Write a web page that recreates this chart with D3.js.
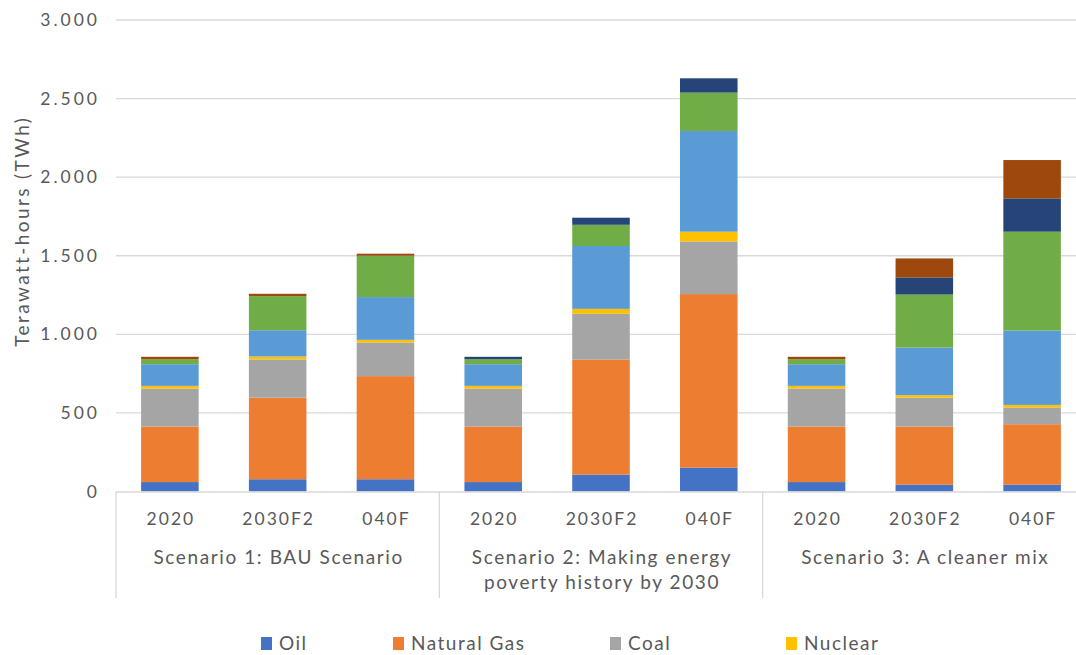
<!DOCTYPE html>
<html><head><meta charset="utf-8">
<script src="https://cdn.jsdelivr.net/npm/d3@7"></script>
<style>
html,body{margin:0;padding:0;background:#fff;}
svg{display:block;font-family:Lato, "Open Sans", sans-serif;}
</style></head>
<body><svg id="c" width="1076" height="655"></svg>
<script>
const scenarios = [["Scenario 1: BAU Scenario"], ["Scenario 2: Making energy", "poverty history by 2030"], ["Scenario 3: A cleaner mix"]];
const years = ["2020", "2030F2", "040F"];
const seriesNames = ["Oil", "Natural Gas", "Coal", "Nuclear", "Hydro", "Wind", "Solar", "Other"];
const seriesColors = ["#4472C4", "#ED7D31", "#A5A5A5", "#FFC000", "#5B9BD5", "#70AD47", "#264478", "#9E480E"];
const oil      = [60, 78, 78, 60, 107, 152, 60, 43, 43];
const gas      = [353, 519, 656, 353, 733, 1104, 353, 370, 385];
const coal     = [242, 243, 214, 242, 291, 335, 242, 184, 106];
const nuclear  = [17, 19, 17, 17, 31, 62, 17, 16, 17];
const hydro    = [138, 167, 272, 138, 400, 641, 138, 303, 473];
const wind     = [32, 217, 263, 32, 135, 244, 32, 337, 629];
const solar    = [0, 0, 0, 15, 45, 91, 0, 109, 212];
const other    = [15, 15, 13, 0, 0, 0, 15, 121, 244];
const yTicks = [0, 500, 1000, 1500, 2000, 2500, 3000];
const legendShown = ["Oil", "Natural Gas", "Coal", "Nuclear"];

const seriesVals = [oil, gas, coal, nuclear, hydro, wind, solar, other];
const svg = d3.select("#c");
const W = 1076;
const x0 = 116, x1 = 1086, yBase = 491.5, yTop = 20;
const cats = [];
scenarios.forEach((s, i) => years.forEach((yr, j) => cats.push({key: i + "-" + j, s: i, year: yr})));
const rows = cats.map((c, k) => {
  const r = {key: c.key};
  seriesNames.forEach((n, si) => r[n] = seriesVals[si][k]);
  return r;
});
const x = d3.scaleBand().domain(cats.map(c => c.key)).range([x0, x1]).paddingInner(0.466).paddingOuter(0.233);
const y = d3.scaleLinear().domain([0, 3000]).range([yBase, yTop]);
const loc = d3.formatLocale({decimal: ",", thousands: ".", grouping: [3], currency: ["", ""]});
const fmt = loc.format(",d");
const textCol = "#595959";
const gridCol = "#D9D9D9";

// gridlines
svg.append("g").selectAll("line").data(yTicks.filter(t => t > 0)).join("line")
  .attr("x1", x0).attr("x2", W).attr("y1", d => y(d)).attr("y2", d => y(d))
  .attr("stroke", gridCol).attr("stroke-width", 1.3);

// y labels
const yls = 3;
svg.append("g").selectAll("text").data(yTicks).join("text")
  .attr("x", 97 + yls).attr("y", d => y(d)).attr("dy", "0.35em").attr("text-anchor", "end")
  .attr("fill", textCol).style("font-size", "17.5px").style("letter-spacing", yls + "px").text(d => fmt(d));

svg.append("text").attr("transform", `translate(29,${230 + 1.2}) rotate(-90)`)
  .attr("text-anchor", "middle").attr("fill", textCol).style("font-size", "19px")
  .style("letter-spacing", "2.4px")
  .text("Terawatt-hours (TWh)");

// bars
const stack = d3.stack().keys(seriesNames)(rows);
svg.append("g").selectAll("g").data(stack).join("g")
  .attr("fill", (d, i) => seriesColors[i])
  .selectAll("rect").data(d => d).join("rect")
  .attr("x", d => x(d.data.key)).attr("width", x.bandwidth())
  .attr("y", d => y(d[1])).attr("height", d => Math.max(0, y(d[0]) - y(d[1])));

// axis baseline and separators
svg.append("line").attr("x1", x0).attr("x2", W).attr("y1", yBase + 0.5).attr("y2", yBase + 0.5)
  .attr("stroke", gridCol).attr("stroke-width", 1.3);
const sepX = [0, 3, 6].map(i => x(cats[i].key) - x.step() * x.paddingInner() / 2);
svg.append("g").selectAll("line").data(sepX).join("line")
  .attr("x1", d => d).attr("x2", d => d).attr("y1", yBase).attr("y2", 598)
  .attr("stroke", gridCol).attr("stroke-width", 1.3);

// x labels
svg.append("g").selectAll("text").data(cats).join("text")
  .attr("x", d => x(d.key) + x.bandwidth() / 2 + 1).attr("y", 525).attr("text-anchor", "middle")
  .attr("fill", textCol).style("font-size", "17.5px").style("letter-spacing", "2px").text(d => d.year);

// group labels
svg.append("g").selectAll("text").data(scenarios).join("text")
  .attr("x", (d, i) => x(cats[i * 3 + 1].key) + x.bandwidth() / 2 + 1).attr("y", 564)
  .attr("text-anchor", "middle").attr("fill", textCol).style("font-size", "19px")
  .style("letter-spacing", "1.6px")
  .selectAll("tspan").data(d => d).join("tspan")
  .attr("x", function() { return this.parentNode.getAttribute("x"); })
  .attr("dy", (d, i) => i === 0 ? 0 : 25).text(d => d);

// legend
const legX = [261, 393, 610, 786];
const leg = svg.append("g").selectAll("g").data(legendShown).join("g")
  .attr("transform", (d, i) => `translate(${legX[i]},637)`);
leg.append("rect").attr("width", 11).attr("height", 13)
  .attr("fill", d => seriesColors[seriesNames.indexOf(d)]);
leg.append("text").attr("x", 18).attr("y", 13).attr("fill", textCol).style("font-size", "19px")
  .style("letter-spacing", "1.5px").text(d => d);
</script></body></html>
